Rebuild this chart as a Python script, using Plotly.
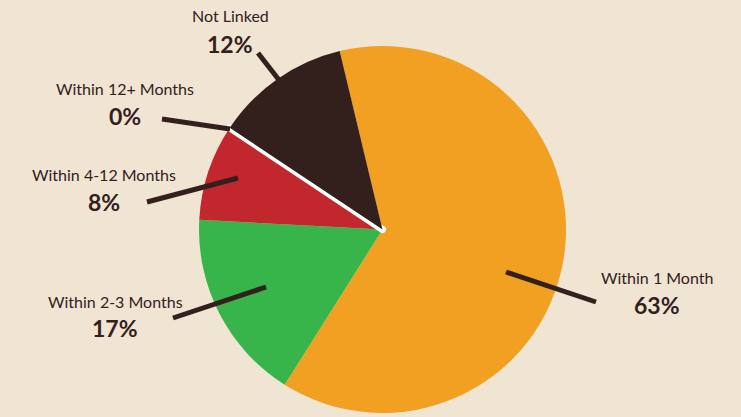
import plotly.graph_objects as go

# ---- data ----
categories = ["Within 1 Month", "Within 2-3 Months", "Within 4-12 Months", "Within 12+ Months", "Not Linked"]
values = [62.7, 16.9, 8.5, 0.0, 11.9]
pct_labels = ["63%", "17%", "8%", "0%", "12%"]

# ---- style ----
colors = ["#F2A022", "#37B54A", "#C1272D", "#FFFFFF", "#33201C"]
line_colors = ["#F2A022", "#37B54A", "#C1272D", "#FFFFFF", "#33201C"]
line_widths = [0, 0, 0, 7, 0]
BG = "#F0E5D3"
DARK = "#33201C"
W, H = 741, 417
CX, CY, R = 382.5, 229.5, 183.5

# label layout (pixel positions): name centre, pct centre, leader (outer -> inner)
label_layout = [
    dict(name=(657, 277), pct=(657, 305), leader=((596, 302), (506, 272))),
    dict(name=(115, 301), pct=(115, 328), leader=((173, 318), (266, 287))),
    dict(name=(104, 174), pct=(104, 202), leader=((147, 202), (238, 178))),
    dict(name=(125, 88), pct=(125, 116), leader=((162, 119), (230, 129))),
    dict(name=(230, 16), pct=(230, 44), leader=((258, 53), (279, 80))),
]

def px(x):
    return x / W

def py(y):
    return 1 - y / H

fig = go.Figure()
fig.add_trace(go.Pie(
    labels=categories,
    values=values,
    sort=False,
    direction="clockwise",
    rotation=-13.5,
    marker=dict(colors=colors, line=dict(color=line_colors, width=line_widths)),
    textinfo="none",
    hoverinfo="label+percent",
    showlegend=False,
    domain=dict(x=[px(CX - R), px(CX + R)], y=[py(CY + R), py(CY - R)]),
))

annotations = []
shapes = []
for cat, pct, lay in zip(categories, pct_labels, label_layout):
    annotations.append(dict(
        x=px(lay["name"][0]), y=py(lay["name"][1]), xref="paper", yref="paper",
        text=cat, showarrow=False, xanchor="center", yanchor="middle",
        font=dict(family="Lato", size=16, color=DARK),
    ))
    annotations.append(dict(
        x=px(lay["pct"][0]), y=py(lay["pct"][1]), xref="paper", yref="paper",
        text=pct, showarrow=False, xanchor="center", yanchor="middle",
        font=dict(family="Lato", size=23, color=DARK, weight=700),
    ))
    (x0, y0), (x1, y1) = lay["leader"]
    shapes.append(dict(
        type="line", xref="paper", yref="paper",
        x0=px(x0), y0=py(y0), x1=px(x1), y1=py(y1),
        line=dict(color=DARK, width=5),
    ))

fig.update_layout(
    width=W, height=H,
    margin=dict(l=0, r=0, t=0, b=0),
    paper_bgcolor=BG, plot_bgcolor=BG,
    annotations=annotations,
    shapes=shapes,
)

fig.write_html("out.html")
